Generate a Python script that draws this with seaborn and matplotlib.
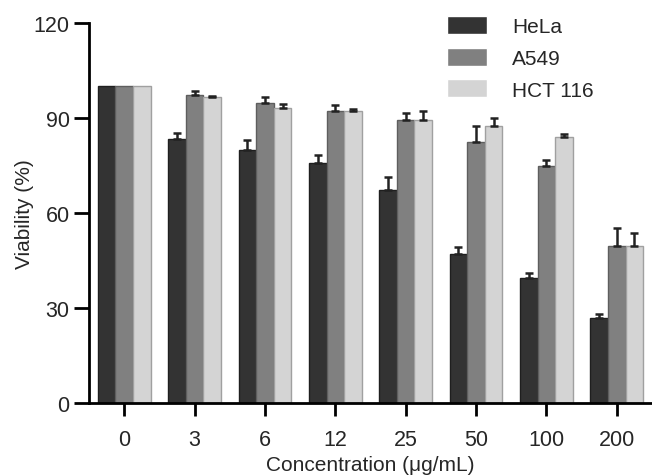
import matplotlib
matplotlib.use("Agg")
import matplotlib.pyplot as plt
import numpy as np
import pandas as pd
import seaborn as sns

concentrations = ['0', '3', '6', '12', '25', '50', '100', '200']
cell_lines = ['HeLa', 'A549', 'HCT 116']
hela = [100, 83.5, 79.9, 75.7, 67.2, 47.2, 39.6, 26.7]
hela_err = [0, 1.7, 3.1, 2.5, 4.1, 2.2, 1.3, 1.5]
a549 = [100, 97.4, 94.6, 92.1, 89.5, 82.5, 74.8, 49.7]
a549_err = [0, 1.2, 1.9, 2.0, 2.0, 5.0, 1.9, 5.6]
hct = [100, 96.5, 93.3, 92.1, 89.5, 87.6, 83.9, 49.7]
hct_err = [0, 0.6, 1.0, 0.6, 2.8, 2.3, 1.0, 3.9]
y_ticks = [0, 30, 60, 90, 120]

colors = ['#333333', '#808080', '#d4d4d4']
edges = ['#1f1f1f', '#5e5e5e', '#a0a0a0']

sns.set_style('ticks')
plt.rcParams['font.family'] = ['Liberation Sans', 'DejaVu Sans']

values = [hela, a549, hct]
errs = [hela_err, a549_err, hct_err]
rows = []
for name, vals in zip(cell_lines, values):
    for c, v in zip(concentrations, vals):
        rows.append({'Concentration': c, 'Viability': v, 'Cell': name})
df = pd.DataFrame(rows)

fig = plt.figure(figsize=(6.52, 4.77), dpi=100)
ax = fig.add_axes([89/652, 1-404/477, 1-89/652, (404-24)/477])

sns.barplot(data=df, x='Concentration', y='Viability', hue='Cell',
            order=concentrations, hue_order=cell_lines, palette=colors,
            errorbar=None, width=0.75, gap=0, saturation=1, ax=ax,
            linewidth=1.0)

for cont, ec, err in zip(ax.containers, edges, errs):
    for bar, e in zip(cont, err):
        bar.set_edgecolor(ec)
        if e > 0:
            xc = bar.get_x() + bar.get_width() / 2
            h = bar.get_height()
            ax.errorbar([xc], [h], yerr=[[0], [e]], fmt='none', ecolor='#222222',
                        elinewidth=1.8, capsize=3.2, capthick=1.8, zorder=3)

ax.set_xlim(-0.5, 7.5)
ax.set_ylim(0, 120)
ax.set_yticks(y_ticks)
ax.set_yticklabels([str(t) for t in y_ticks])
ax.tick_params(axis='both', width=2, labelsize=15.5, color='black')
ax.tick_params(axis='x', length=9, pad=10)
ax.tick_params(axis='y', length=11, pad=3)
for s in ['left', 'bottom']:
    ax.spines[s].set_linewidth(2)
    ax.spines[s].set_color('black')
sns.despine(ax=ax)

ax.set_xlabel('Concentration (μg/mL)', fontsize=15, labelpad=3.5)
ax.set_ylabel('Viability (%)', fontsize=15, labelpad=0)

handles, labels = ax.get_legend_handles_labels()
leg = ax.legend(handles, labels, loc='upper left', bbox_to_anchor=(447/652, 1-17/477),
                bbox_transform=fig.transFigure, frameon=False, fontsize=15,
                handlelength=1.92, handleheight=0.96, labelspacing=0.55,
                handletextpad=1.2, borderpad=0, borderaxespad=0)

fig.savefig('out.png', dpi=100)
